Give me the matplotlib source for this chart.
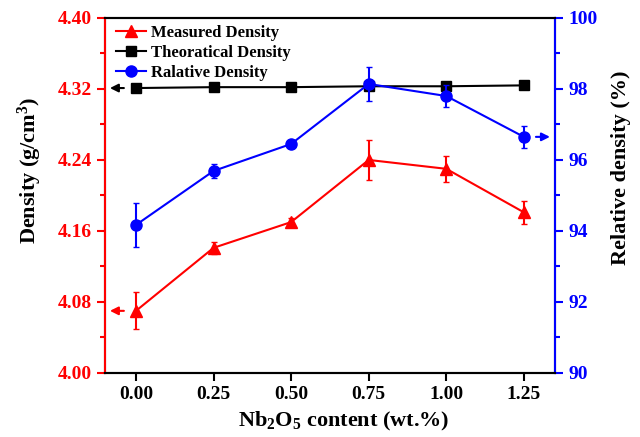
import matplotlib
matplotlib.use("Agg")
import matplotlib.pyplot as plt
from matplotlib.lines import Line2D

plt.rcParams['font.family'] = ['Liberation Serif', 'DejaVu Serif']
plt.rcParams['font.weight'] = 'bold'
plt.rcParams['mathtext.fontset'] = 'custom'
plt.rcParams['mathtext.rm'] = 'Liberation Serif:bold'
plt.rcParams['mathtext.bf'] = 'Liberation Serif:bold'
plt.rcParams['mathtext.default'] = 'bf'

content = [0.00, 0.25, 0.50, 0.75, 1.00, 1.25]
measured = [4.070, 4.141, 4.170, 4.240, 4.230, 4.181]
measured_err = [0.021, 0.007, 0.005, 0.023, 0.015, 0.013]
theoretical = [4.321, 4.322, 4.322, 4.323, 4.323, 4.324]
relative = [94.17, 95.69, 96.45, 98.14, 97.80, 96.65]
relative_err = [0.62, 0.20, 0.08, 0.48, 0.30, 0.30]

fig = plt.figure(figsize=(6.4, 4.37), dpi=100)
ax = fig.add_axes([0.164, 0.1465, 0.703, 0.8125])
ax2 = ax.twinx()

ax.errorbar(content, measured, yerr=measured_err, color='red', marker='^',
            markersize=8.5, linewidth=1.5, capsize=2.5, elinewidth=1.5)
ax.plot(content, theoretical, color='black', marker='s', markersize=7,
        linewidth=1.5)
ax2.errorbar(content, relative, yerr=relative_err, color='blue', marker='o',
             markersize=8, linewidth=1.5, capsize=2.5, elinewidth=1.5)

ax.set_xlim(-0.1, 1.35)
ax.set_ylim(4.00, 4.40)
ax2.set_ylim(90, 100)
ax.set_xticks(content)
ax.set_xticklabels(['%.2f' % c for c in content])
ax.set_yticks([4.00, 4.08, 4.16, 4.24, 4.32, 4.40])
ax.set_yticks([4.04, 4.12, 4.20, 4.28, 4.36], minor=True)
ax2.set_yticks([90, 92, 94, 96, 98, 100])
ax2.set_yticks([91, 93, 95, 97, 99], minor=True)

ax.tick_params(axis='x', direction='out', length=6, width=1.5, labelsize=14)
ax.tick_params(axis='y', which='major', colors='red', length=6, width=1.5, labelsize=14)
ax.tick_params(axis='y', which='minor', colors='red', length=3.5, width=1.5)
ax2.tick_params(axis='y', which='major', colors='blue', length=6, width=1.5, labelsize=14)
ax2.tick_params(axis='y', which='minor', colors='blue', length=3.5, width=1.5)

for a in (ax, ax2):
    for s in a.spines.values():
        s.set_linewidth(1.5)
ax2.spines['left'].set_color('red')
ax2.spines['right'].set_color('blue')

ax.set_xlabel('Nb$_2$O$_5$ content (wt.%)', fontsize=16, fontweight='bold')
ax.set_ylabel('Density (g/cm$^3$)', fontsize=16, fontweight='bold')
ax2.set_ylabel('Relative density (%)', fontsize=16, fontweight='bold')
ax.xaxis.set_label_coords(0.53, -0.105)
ax.yaxis.set_label_coords(-0.135, 0.57)
ax2.yaxis.set_label_coords(1.125, 0.577)

# direction arrows
ax.annotate('', xy=(-0.093, measured[0]), xytext=(-0.03, measured[0]),
            arrowprops=dict(arrowstyle='-|>', color='red', lw=1.5, mutation_scale=12))
ax.annotate('', xy=(-0.093, theoretical[0]), xytext=(-0.03, theoretical[0]),
            arrowprops=dict(arrowstyle='-|>', color='black', lw=1.5, mutation_scale=12))
ax2.annotate('', xy=(1.343, relative[-1]), xytext=(1.28, relative[-1]),
             arrowprops=dict(arrowstyle='-|>', color='blue', lw=1.5, mutation_scale=12))

handles = [Line2D([], [], color='red', marker='^', markersize=8.5, linewidth=1.5),
           Line2D([], [], color='black', marker='s', markersize=7, linewidth=1.5),
           Line2D([], [], color='blue', marker='o', markersize=8, linewidth=1.5)]
leg = ax.legend(handles, ['Measured Density', 'Theoratical Density', 'Ralative Density'],
                loc='upper left', frameon=False, fontsize=12, handlelength=1.8,
                borderaxespad=0.0, labelspacing=0.25, handletextpad=0.3,
                bbox_to_anchor=(0.01, 1.0))
for t in leg.get_texts():
    t.set_fontweight('bold')

fig.savefig('out.png', dpi=100)
